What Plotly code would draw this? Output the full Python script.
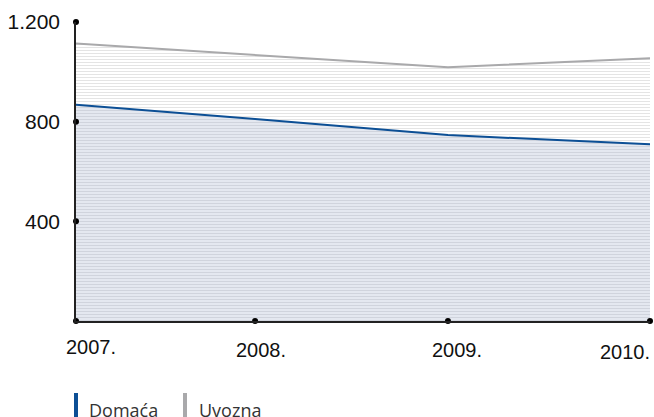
import plotly.graph_objects as go

# data
years = ['2007.', '2008.', '2009.', '2010.']
year_pos = [0, 0.936, 1.944, 3]          # ticks are not evenly spaced in the original
domaca = [868, 811, 746, 709]
uvozna = [1114, 1067, 1018, 1055]
y_ticks = [400, 800, 1200]
y_tick_text = ['400', '800', '1.200']
label_shift = [15, 6, 9, -25]            # label offsets relative to the tick dots
label_drop = [0, -3, -3, -5]

BLUE = '#0c4f95'
GREY = '#a9a9ab'

W, H = 654, 417
L, R, T, B = 76, 4, 22, 96
plot_w = W - L - R
plot_h = H - T - B


def px_x(px):
    return (px - L) / plot_w


def px_y(py):
    return (H - B - py) / plot_h


fig = go.Figure()

fig.add_trace(go.Scatter(
    x=year_pos, y=domaca, mode='lines', name='Domaća',
    line=dict(color=BLUE, width=2),
    fill='tozeroy', fillcolor='#e4e8f0',
    fillpattern=dict(shape='-', fgcolor='#bcc0c9', bgcolor='#e4e8f0',
                     size=3, solidity=0.35),
    hoverinfo='skip'
))

fig.add_trace(go.Scatter(
    x=year_pos, y=uvozna, mode='lines', name='Uvozna',
    line=dict(color=GREY, width=2),
    fill='tonexty', fillcolor='white',
    fillpattern=dict(shape='-', fgcolor='#c9c9c9', bgcolor='white',
                     size=3, solidity=0.35),
    hoverinfo='skip'
))

# black dots on the axes at each tick
fig.add_trace(go.Scatter(
    x=year_pos + [0] * len(y_ticks),
    y=[0] * len(year_pos) + y_ticks,
    mode='markers', marker=dict(color='black', size=6),
    cliponaxis=False, hoverinfo='skip'
))

annotations = []
for pos, lab, dx, dy in zip(year_pos, years, label_shift, label_drop):
    annotations.append(dict(
        x=pos, y=px_y(347), xref='x', yref='paper', text=lab,
        showarrow=False, xanchor='center', yanchor='middle',
        xshift=dx, yshift=dy,
        font=dict(family='Liberation Sans, Arial', size=20, color='#111')
    ))

# legend drawn by hand: vertical colour bars with labels
legend_items = [('Domaća', BLUE, 74, 87), ('Uvozna', GREY, 183, 197)]
shapes = []
for name, col, bar_x, txt_x in legend_items:
    shapes.append(dict(type='rect', xref='paper', yref='paper',
                       x0=px_x(bar_x), x1=px_x(bar_x + 4),
                       y0=px_y(420), y1=px_y(393),
                       fillcolor=col, line=dict(width=0)))
    annotations.append(dict(
        x=px_x(txt_x), y=px_y(396), xref='paper', yref='paper', text=name,
        showarrow=False, xanchor='left', yanchor='top',
        font=dict(family='Open Sans, Noto Sans', size=18, color='#333')
    ))

fig.update_layout(
    width=W, height=H,
    margin=dict(l=L, r=R, t=T, b=B),
    paper_bgcolor='white', plot_bgcolor='white',
    showlegend=False,
    annotations=annotations,
    shapes=shapes,
    xaxis=dict(range=[0, 3], showgrid=False, zeroline=False,
               showticklabels=False, ticks='',
               showline=True, linecolor='#222', linewidth=1.5),
    yaxis=dict(range=[0, 1200], showgrid=False, zeroline=False,
               tickvals=y_ticks, ticktext=y_tick_text, ticks='',
               ticklabelstandoff=10,
               tickfont=dict(family='Liberation Sans, Arial', size=21, color='#111'),
               showline=True, linecolor='#222', linewidth=1.5),
)

# drop the default page margin so the figure sits at the window's corner
fig.write_html("out.html", config={'displayModeBar': False},
               post_script="document.body.style.margin='0px';")
